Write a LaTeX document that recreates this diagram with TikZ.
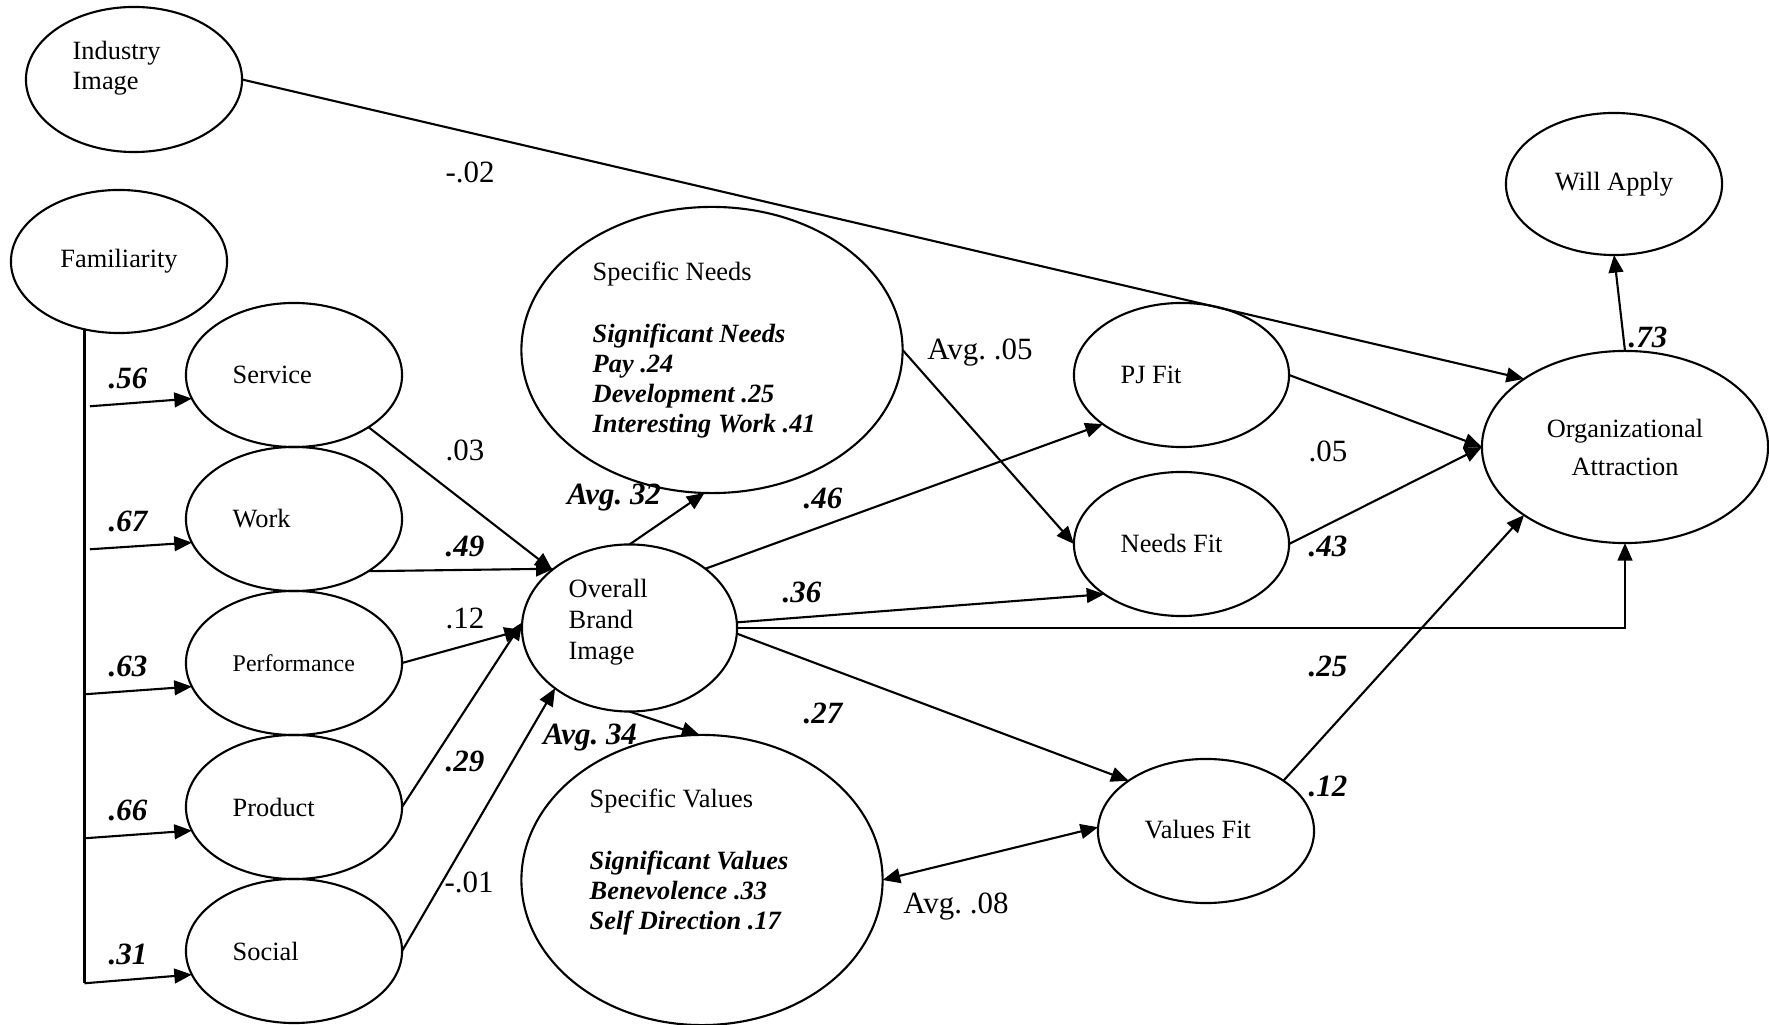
\documentclass[tikz,border=0pt]{standalone}
\usepackage{fontspec}
\setmainfont{Liberation Serif}
\usetikzlibrary{shapes.geometric, arrows.meta, calc}

\newcommand{\nodefont}{\fontsize{7.5}{8.6}\selectfont}
\newcommand{\coeffont}{\fontsize{8.8}{10}\selectfont}
\newcommand{\boldit}[1]{\textbf{\textit{#1}}}
\frenchspacing

\tikzset{
  var/.style={draw, ellipse, line width=0.6pt, inner sep=0pt, outer sep=0pt},
  txt/.style={font=\nodefont, inner sep=0pt, align=left},
  coef/.style={font=\coeffont, inner sep=0pt},
  bcoef/.style={font=\coeffont\bfseries\itshape, inner sep=0pt},
  link/.style={line width=0.6pt},
  arr/.style={line width=0.6pt, -{Triangle[length=5pt,width=4.2pt]}},
  darr/.style={line width=0.6pt, {Triangle[length=5pt,width=4.2pt]}-{Triangle[length=5pt,width=4.2pt]}}
}

\begin{document}
\begin{tikzpicture}[x=0.01cm, y=-0.01cm]
  \useasboundingbox (0,0) rectangle (1769,1025);

  % left column: industry image, familiarity and the five brand facets
  \node[var, minimum width=2.16cm, minimum height=1.45cm] (industry) at (134,79.5) {};
  \node[var, minimum width=2.16cm, minimum height=1.43cm, font=\nodefont] (fam) at (119,261.5) {Familiarity};
  \node[var, minimum width=2.16cm, minimum height=1.44cm] (service) at (294,375) {};
  \node[var, minimum width=2.16cm, minimum height=1.44cm] (work) at (294,519) {};
  \node[var, minimum width=2.16cm, minimum height=1.44cm] (perf) at (294,663) {};
  \node[var, minimum width=2.16cm, minimum height=1.44cm] (product) at (294,807) {};
  \node[var, minimum width=2.16cm, minimum height=1.44cm] (social) at (294,951) {};

  % middle: overall image and the specific needs / values
  \node[var, minimum width=2.15cm, minimum height=1.67cm] (overall) at (629.5,628) {};
  \node[var, minimum width=3.81cm, minimum height=2.86cm] (specneeds) at (712,350) {};
  \node[var, minimum width=3.61cm, minimum height=2.90cm] (specvalues) at (702,880) {};

  % fit variables and outcomes
  \node[var, minimum width=2.15cm, minimum height=1.44cm] (pj) at (1181.5,375) {};
  \node[var, minimum width=2.15cm, minimum height=1.44cm] (needs) at (1181.5,544) {};
  \node[var, minimum width=2.16cm, minimum height=1.44cm] (values) at (1206,831) {};
  \node[var, minimum width=2.86cm, minimum height=1.92cm, align=center,
        font=\fontsize{7.5}{10.8}\selectfont] (org) at (1625,447) {Organizational\\Attraction};
  \node[var, minimum width=2.16cm, minimum height=1.42cm, font=\nodefont] (will) at (1614,184) {Will Apply};

  % texts set to the left inside the ellipses
  \node[txt, anchor=west] (industryT) at (72,68) {Industry\\Image};
  \node[txt, anchor=west] (serviceT) at (232,375) {Service};
  \node[txt, anchor=west] (workT) at (232,519) {Work};
  \node[txt, anchor=west, font=\fontsize{6.8}{8}\selectfont] (perfT) at (232,663) {Performance};
  \node[txt, anchor=west] (productT) at (232,807) {Product};
  \node[txt, anchor=west] (socialT) at (232,951) {Social};
  \node[txt, anchor=west, font=\fontsize{7.5}{8.8}\selectfont] (overallT) at (568,622) {Overall\\Brand\\Image};
  \node[txt, anchor=west] (specneedsT) at (592,350) {Specific Needs\\[9pt]
    \boldit{Significant Needs}\\
    \boldit{Pay .24}\\
    \boldit{Development .25}\\
    \boldit{Interesting Work .41}};
  \node[txt, anchor=west] (specvaluesT) at (589,862) {Specific Values\\[9pt]
    \boldit{Significant Values}\\
    \boldit{Benevolence .33}\\
    \boldit{Self Direction .17}};
  \node[txt, anchor=west] (pjT) at (1120,375) {PJ Fit};
  \node[txt, anchor=west] (needsT) at (1120,543) {Needs Fit};
  \node[txt, anchor=west] (valuesT) at (1144,830) {Values Fit};

  % familiarity feeds every facet
  \draw[link] (fam.-117) -- ++(0,654) coordinate (famB);
  \coordinate (b1) at ($(famB)+(5.5,-577)$);
  \coordinate (b2) at ($(famB)+(5.5,-434)$);
  \coordinate (b3) at ($(famB)+(0,-289)$);
  \coordinate (b4) at ($(famB)+(0,-145)$);
  \draw[arr] (b1) -- (service.193);
  \draw[arr] (b2) -- (work.193);
  \draw[arr] (b3) -- (perf.193);
  \draw[arr] (b4) -- (product.193);
  \draw[arr] (famB) -- (social.193);
  \node[bcoef] (c-service) at (128,378) {.56};
  \node[bcoef] (c-work) at (128,521) {.67};
  \node[bcoef] (c-perf) at (128,666) {.63};
  \node[bcoef] (c-product) at (128,810) {.66};
  \node[bcoef] (c-social) at (128,954) {.31};

  % facets into overall brand image
  \draw[arr] (service.-35) -- (overall.143);
  \draw[arr] (work.-35) -- (overall.142);
  \draw[arr] (perf.east) -- (overall.181);
  \draw[arr] (product.east) -- (overall.177);
  \draw[arr] (social.east) -- (overall.219);
  \node[coef] (c-so) at (465,450) {.03};
  \node[bcoef] (c-wo) at (465,546) {.49};
  \node[coef] (c-po) at (465,618) {.12};
  \node[bcoef] (c-pro) at (465,761) {.29};
  \node[coef] (c-sco) at (469,882) {-.01};

  % overall brand image onwards
  \draw[arr] (overall.north) -- (specneeds.-93);
  \draw[arr] (overall.south) -- (specvalues.91);
  \draw[arr] (overall.38) -- (pj.212);
  \draw[arr] (overall.3) -- (needs.213);
  \draw[arr] (overall.east) -| (org.south);
  \draw[arr] (overall.-3) -- (values.147);
  \node[bcoef] (c-avg32) at (614,498) {Avg. 32};
  \node[bcoef] (c-avg34) at (590,738) {Avg. 34};
  \node[bcoef] (c-opj) at (823,498) {.46};
  \node[bcoef] (c-oneeds) at (802,592) {.36};
  \node[bcoef] (c-ovalues) at (823,713) {.27};

  % specific needs and values to fit
  \draw[arr] (specneeds.east) -- (needs.west);
  \draw[darr] (specvalues.east) -- (values.178);
  \node[coef] (c-avg05) at (980,353) {Avg. .05};
  \node[coef] (c-avg08) at (956,907) {Avg. .08};

  % into organizational attraction
  \draw[arr] (industry.east) -- (org.146);
  \draw[arr] (pj.east) -- (org.west);
  \draw[arr] (needs.east) -- (org.west);
  \draw[arr] (values.33) -- (org.214);
  \draw[arr] (org.north) -- (will.south);
  \node[coef] (c-industry) at (470,172) {-.02};
  \node[coef] (c-pjorg) at (1328,451) {.05};
  \node[bcoef] (c-needsorg) at (1328,546) {.43};
  \node[bcoef] (c-valuesorg) at (1328,666) {.25};
  \node[bcoef] (c-values) at (1328,786) {.12};
  \node[bcoef] (c-will) at (1648,337) {.73};
\end{tikzpicture}
\end{document}
